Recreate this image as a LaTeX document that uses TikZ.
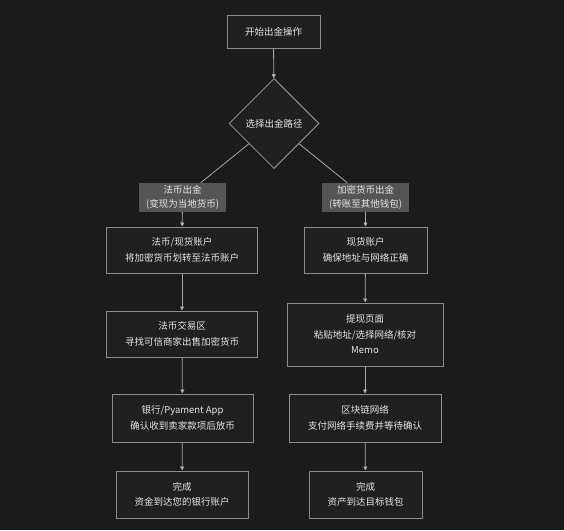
\documentclass[tikz,border=0pt]{standalone}
\usepackage{fontspec}
\setmainfont{Noto Sans CJK SC}
\usetikzlibrary{shapes.geometric,arrows.meta}
\definecolor{bgc}{HTML}{1B1B1B}
\definecolor{nodefill}{HTML}{202020}
\definecolor{bordc}{HTML}{8C8C8C}
\definecolor{linec}{HTML}{A8A8A8}
\definecolor{lblfill}{HTML}{555555}
\definecolor{txtc}{HTML}{E6E6E6}
\tikzset{
  box/.style={draw=bordc, line width=1pt, fill=nodefill, text=txtc, inner sep=0pt,
    font=\fontsize{9.5}{15.5}\selectfont, align=center},
  dia/.style={diamond, draw=bordc, line width=1pt, fill=nodefill, text=txtc,
    minimum width=90pt, minimum height=90pt, inner sep=0pt, font=\fontsize{9.5}{15.5}\selectfont},
  lbl/.style={fill=lblfill, text=txtc, inner sep=0pt, align=center,
    font=\fontsize{9.5}{14.5}\selectfont},
  conn/.style={draw=linec, line width=0.8pt},
  arr/.style={conn, -{Triangle[length=4pt,width=4pt,fill=txtc]}},
}
\begin{document}
\begin{tikzpicture}[x=1pt,y=-1pt]
\fill[bgc] (0,0) rectangle (564,530);
\useasboundingbox (0,0) rectangle (564,530);
\node[box, minimum width=93pt, minimum height=33pt] (start) at (273.5,31.5) {开始出金操作};
\node[dia] (d) at (274,123.5) {选择出金路径};
\node[lbl, minimum width=87pt, minimum height=29pt] (l1) at (182.5,197.5) {法币出金\\(变现为当地货币)};
\node[lbl, minimum width=87pt, minimum height=29pt] (r1) at (365.5,197.5) {加密货币出金\\(转账至其他钱包)};
\node[box, minimum width=151pt, minimum height=46pt] (a1) at (182,250) {法币/现货账户\\将加密货币划转至法币账户};
\node[box, minimum width=151pt, minimum height=46pt] (a2) at (182,334) {法币交易区\\寻找可信商家出售加密货币};
\node[box, minimum width=141pt, minimum height=48pt] (a3) at (182.5,418) {银行/Pyament App\\确认收到卖家款项后放币};
\node[box, minimum width=132pt, minimum height=47pt] (a4) at (182,494.5) {完成\\资金到达您的银行账户};
\node[box, minimum width=123pt, minimum height=46pt] (b1) at (365.5,250) {现货账户\\确保地址与网络正确};
\node[box, minimum width=156pt, minimum height=63pt] (b2) at (365,334.5) {提现页面\\粘贴地址/选择网络/核对\\Memo};
\node[box, minimum width=152pt, minimum height=48pt] (b3) at (365,418) {区块链网络\\支付网络手续费并等待确认};
\node[box, minimum width=113pt, minimum height=47pt] (b4) at (365.5,494.5) {完成\\资产到达目标钱包};
\draw[arr] (start) -- (d);
\draw[conn] (d) -- (l1);
\draw[conn] (d) -- (r1);
\draw[arr] (l1) -- (a1);
\draw[arr] (r1) -- (b1);
\draw[arr] (a1) -- (a2);
\draw[arr] (a2) -- (a3);
\draw[arr] (a3) -- (a4);
\draw[arr] (b1) -- (b2);
\draw[arr] (b2) -- (b3);
\draw[arr] (b3) -- (b4);
\end{tikzpicture}
\end{document}
